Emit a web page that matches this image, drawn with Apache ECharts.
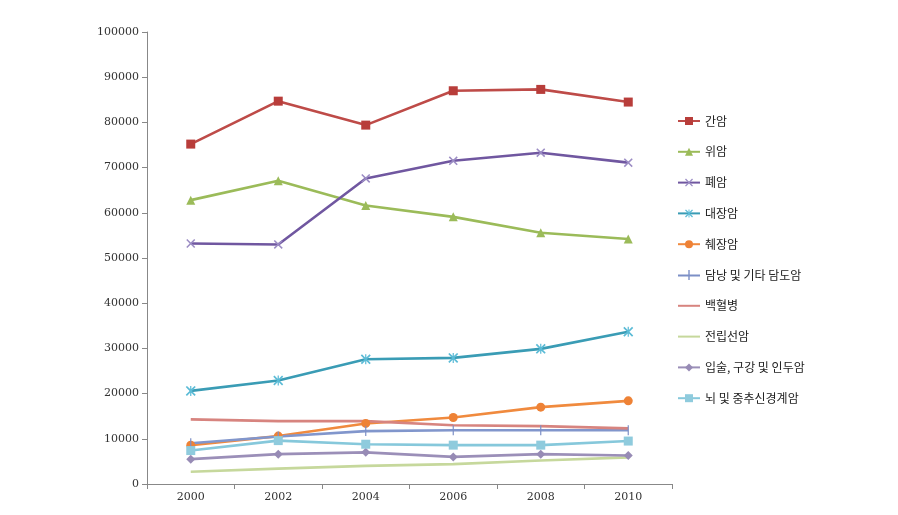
<!DOCTYPE html>
<html><head><meta charset="utf-8">
<script src="https://cdn.jsdelivr.net/npm/echarts@6/dist/echarts.min.js"></script>
<style>html,body{margin:0;padding:0;background:#fff}#c{width:898px;height:515px}</style>
</head><body><div id="c"></div>
<script>
const years = ['2000','2002','2004','2006','2008','2010'];
const names = ['간암','위암','폐암','대장암','췌장암','담낭 및 기타 담도암','백혈병','전립선암','입술, 구강 및 인두암','뇌 및 중추신경계암'];
const liver    = [75200, 84700, 79400, 87000, 87300, 84500];
const stomach  = [62800, 67100, 61600, 59100, 55600, 54200];
const lung     = [53200, 53000, 67600, 71500, 73300, 71100];
const colon    = [20600, 22900, 27600, 27900, 29900, 33700];
const pancreas = [8600, 10600, 13400, 14700, 17000, 18400];
const gallbladder = [9000, 10500, 11700, 11900, 11900, 11900];
const leukemia = [14300, 13900, 13900, 13000, 12800, 12300];
const prostate = [2700, 3400, 4000, 4400, 5200, 5900];
const lip      = [5500, 6600, 7000, 6000, 6600, 6300];
const brain    = [7400, 9600, 8800, 8600, 8600, 9500];
const yTicks = [0, 10000, 20000, 30000, 40000, 50000, 60000, 70000, 80000, 90000, 100000];

const X = 'path://M0,1.2L1.2,0L5,3.8L8.8,0L10,1.2L6.2,5L10,8.8L8.8,10L5,6.2L1.2,10L0,8.8L3.8,5Z';
const AST = 'path://M0,1.2L1.2,0L4.4,3.2L4.4,0L5.6,0L5.6,3.2L8.8,0L10,1.2L6.2,5L10,8.8L8.8,10L5.6,6.8L5.6,10L4.4,10L4.4,6.8L1.2,10L0,8.8L3.8,5Z';
const PLUS = 'path://M4.4,0L5.6,0L5.6,10L4.4,10Z';
const LINE = 'path://M0,4.5L22,4.5L22,6.5L0,6.5Z';
const LINEPLUS = 'path://M0,4.5L10.3,4.5L10.3,0L11.7,0L11.7,4.5L22,4.5L22,6.5L11.7,6.5L11.7,10L10.3,10L10.3,6.5L0,6.5Z';

function s(name, data, color, symbol, size, symColor) {
  return {
    name, type: 'line', data,
    symbol: symbol || 'none', symbolSize: size || 8, showSymbol: !!symbol,
    symbolKeepAspect: true,
    lineStyle: { color, width: 2.6 },
    itemStyle: { color: symColor || color },
    emphasis: { disabled: true },
    z: 2
  };
}
const series = [
  s(names[0], liver, '#BE4B48', 'rect', 9, '#B83D3A'),
  s(names[1], stomach, '#9BBB59', 'triangle', 9),
  s(names[2], lung, '#7057A0', X, 9, '#9B8CC4'),
  s(names[3], colon, '#3A9CB5', AST, 10, '#5BBBD6'),
  s(names[4], pancreas, '#F08A3E', 'circle', 9, '#EE8236'),
  s(names[5], gallbladder, '#8196CC', PLUS, 10, '#7C8FC6'),
  s(names[6], leukemia, '#D7847F'),
  s(names[7], prostate, '#C6D89C'),
  s(names[8], lip, '#9B8FB8', 'diamond', 9, '#978BB5'),
  s(names[9], brain, '#86C8DB', 'rect', 9, '#8FCBDD')
];

const legendData = names.map((n, i) => {
  if (i === 6 || i === 7) return { name: n, icon: LINE };
  if (i === 5) return { name: n, icon: LINEPLUS };
  return { name: n };
});

const chart = echarts.init(document.getElementById('c'), null, { renderer: 'canvas' });
chart.setOption({
  animation: false,
  backgroundColor: '#fff',
  textStyle: { fontFamily: '"Noto Sans CJK KR", sans-serif' },
  grid: { left: 147, right: 226, top: 32, bottom: 31, containLabel: false },
  legend: {
    orient: 'vertical', left: 677, top: 114, padding: 0,
    itemWidth: 22, itemHeight: 10, itemGap: 16.8,
    data: legendData,
    textStyle: { fontSize: 12, color: '#222', lineHeight: 14 }
  },
  xAxis: {
    type: 'category', data: years, boundaryGap: true,
    axisLine: { lineStyle: { color: '#888', width: 1 } },
    axisTick: { show: true, length: 5, inside: false, lineStyle: { color: '#888' } },
    axisLabel: { fontSize: 11, color: '#333', margin: 8, fontFamily: '"DejaVu Serif", serif' },
    splitLine: { show: false }
  },
  yAxis: {
    type: 'value', min: 0, max: 100000, interval: 10000,
    axisLine: { show: true, lineStyle: { color: '#888', width: 1 } },
    axisTick: { show: true, length: 5, lineStyle: { color: '#888' } },
    axisLabel: { fontSize: 11, color: '#333', margin: 8, fontFamily: '"DejaVu Serif", serif',
      formatter: v => yTicks.includes(v) ? String(v) : '' },
    splitLine: { show: false }
  },
  series
});
</script></body></html>
